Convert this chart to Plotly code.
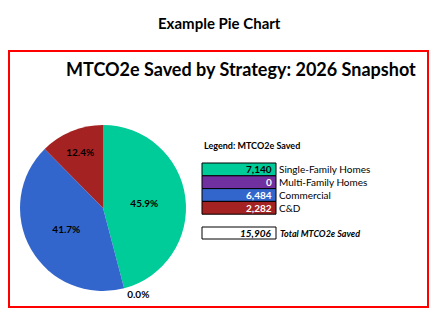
import plotly.graph_objects as go

categories = ["Single-Family Homes", "Multi-Family Homes", "Commercial", "C&D"]
table_values = [7140, 0, 6484, 2282]
table_total = 15906
pie_shares = [45.9, 0.0, 41.7, 12.4]
pie_colors = ["#00CC99", "#7030A0", "#3366CC", "#A52222"]
value_text_colors = ["black", "white", "white", "white"]
label_pos = ["inside", "outside", "inside", "inside"]
total_label = "Total MTCO2e Saved"
legend_title = "Legend: MTCO2e Saved"
chart_title = "MTCO2e Saved by Strategy: 2026 Snapshot"
page_title = "Example Pie Chart"

W, H = 438, 323
FONT = "Lato, Open Sans, sans-serif"

def px(x):
    return x / W

def py(y):
    return 1 - y / H

pct_text = [f"{v:.1f}%" for v in pie_shares]

fig = go.Figure()
fig.add_trace(go.Pie(
    values=pie_shares,
    labels=categories,
    sort=False,
    direction="clockwise",
    rotation=0,
    marker=dict(colors=pie_colors, line=dict(width=0)),
    text=pct_text,
    texttemplate="<b>%{text}</b>",
    textposition=label_pos,
    insidetextorientation="horizontal",
    textfont=dict(family=FONT, size=10, color="black"),
    outsidetextfont=dict(family=FONT, size=10, color="black"),
    insidetextfont=dict(family=FONT, size=10, color="black"),
    domain=dict(x=[px(20), px(186)], y=[py(291), py(125)]),
    showlegend=False,
    hoverinfo="label+text",
))

shapes = []
annotations = []

# red frame
shapes.append(dict(type="rect", xref="paper", yref="paper",
                   x0=px(9), x1=px(428), y0=py(307), y1=py(51),
                   line=dict(color="#FF0000", width=2), fillcolor="rgba(0,0,0,0)"))

annotations.append(dict(text=f"<b>{page_title}</b>", x=px(219), y=py(23), xref="paper", yref="paper",
                        showarrow=False, xanchor="center", yanchor="middle",
                        font=dict(family=FONT, size=15, color="black")))
annotations.append(dict(text=f"<b>{chart_title}</b>", x=px(418), y=py(69), xref="paper", yref="paper",
                        showarrow=False, xanchor="right", yanchor="middle",
                        font=dict(family=FONT, size=18, color="black")))
annotations.append(dict(text=f"<b>{legend_title}</b>", x=px(202), y=py(145), xref="paper", yref="paper",
                        showarrow=False, xanchor="left", yanchor="middle",
                        font=dict(family=FONT, size=9, color="black")))

bx0, bx1 = 202, 276
row_top = 163
row_h = 12.8
for i, (cat, v, c, tc) in enumerate(zip(categories, table_values, pie_colors, value_text_colors)):
    y0 = row_top + i * row_h
    y1 = y0 + row_h
    shapes.append(dict(type="rect", xref="paper", yref="paper",
                       x0=px(bx0), x1=px(bx1), y0=py(y1), y1=py(y0),
                       line=dict(color="black", width=1), fillcolor=c))
    annotations.append(dict(text=f"<b>{v:,}</b>", x=px(bx1 - 2), y=py((y0 + y1) / 2),
                            xref="paper", yref="paper", showarrow=False,
                            xanchor="right", yanchor="middle",
                            font=dict(family=FONT, size=10, color=tc)))
    annotations.append(dict(text=cat, x=px(bx1 + 1), y=py((y0 + y1) / 2),
                            xref="paper", yref="paper", showarrow=False,
                            xanchor="left", yanchor="middle",
                            font=dict(family=FONT, size=10, color="black")))

ty0, ty1 = 227, 239
shapes.append(dict(type="rect", xref="paper", yref="paper",
                   x0=px(bx0), x1=px(bx1), y0=py(ty1), y1=py(ty0),
                   line=dict(color="black", width=1), fillcolor="white"))
annotations.append(dict(text=f"<b><i>{table_total:,}</i></b>", x=px(bx1 - 2), y=py((ty0 + ty1) / 2),
                        xref="paper", yref="paper", showarrow=False,
                        xanchor="right", yanchor="middle",
                        font=dict(family=FONT, size=10, color="black")))
annotations.append(dict(text=f"<b><i>{total_label}</i></b>", x=px(bx1 + 2), y=py((ty0 + ty1) / 2),
                        xref="paper", yref="paper", showarrow=False,
                        xanchor="left", yanchor="middle",
                        font=dict(family=FONT, size=9, color="black")))

fig.update_layout(
    width=W, height=H,
    margin=dict(l=0, r=0, t=0, b=0),
    paper_bgcolor="white", plot_bgcolor="white",
    shapes=shapes, annotations=annotations,
    font=dict(family=FONT),
)

fig.write_html("out.html")
